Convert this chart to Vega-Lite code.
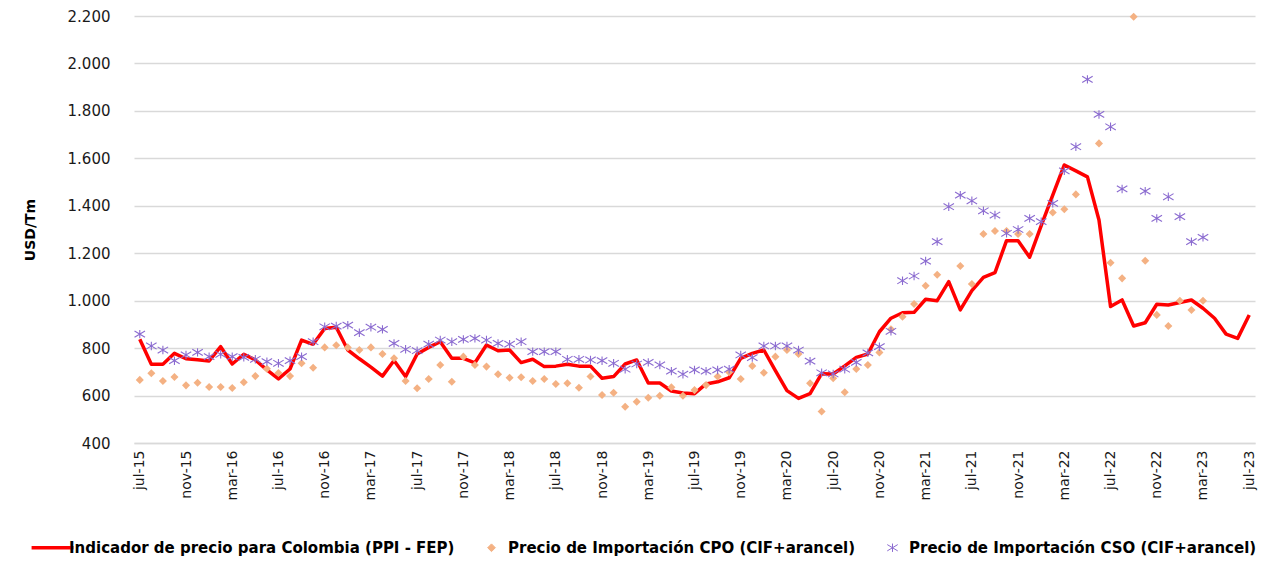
{
  "$schema": "https://vega.github.io/schema/vega-lite/v6.json",
  "width": 1121,
  "height": 427,
  "autosize": "none",
  "padding": {"left": 134, "top": 16, "right": 26, "bottom": 118},
  "background": "white",
  "config": {"view": {"stroke": null}},
  "data": {"values": [
    {"mes":"jul-15","ppi":837,"cpo":666,"cso":859},
    {"mes":"ago-15","ppi":732,"cpo":694,"cso":809},
    {"mes":"sep-15","ppi":732,"cpo":661,"cso":792},
    {"mes":"oct-15","ppi":778,"cpo":678,"cso":747},
    {"mes":"nov-15","ppi":755,"cpo":643,"cso":771},
    {"mes":"dic-15","ppi":751,"cpo":654,"cso":782},
    {"mes":"ene-16","ppi":746,"cpo":636,"cso":764},
    {"mes":"feb-16","ppi":806,"cpo":636,"cso":774},
    {"mes":"mar-16","ppi":733,"cpo":632,"cso":764},
    {"mes":"abr-16","ppi":774,"cpo":656,"cso":761},
    {"mes":"may-16","ppi":750,"cpo":682,"cso":753},
    {"mes":"jun-16","ppi":708,"cpo":713,"cso":743},
    {"mes":"jul-16","ppi":670,"cpo":695,"cso":736},
    {"mes":"ago-16","ppi":712,"cpo":682,"cso":747},
    {"mes":"sep-16","ppi":834,"cpo":736,"cso":764},
    {"mes":"oct-16","ppi":816,"cpo":717,"cso":827},
    {"mes":"nov-16","ppi":883,"cpo":803,"cso":890},
    {"mes":"dic-16","ppi":888,"cpo":812,"cso":893},
    {"mes":"ene-17","ppi":792,"cpo":803,"cso":897},
    {"mes":"feb-17","ppi":755,"cpo":792,"cso":865},
    {"mes":"mar-17","ppi":720,"cpo":803,"cso":888},
    {"mes":"abr-17","ppi":682,"cpo":775,"cso":879},
    {"mes":"may-17","ppi":748,"cpo":757,"cso":820},
    {"mes":"jun-17","ppi":680,"cpo":661,"cso":795},
    {"mes":"jul-17","ppi":775,"cpo":631,"cso":789},
    {"mes":"ago-17","ppi":803,"cpo":670,"cso":817},
    {"mes":"sep-17","ppi":827,"cpo":729,"cso":834},
    {"mes":"oct-17","ppi":757,"cpo":658,"cso":827},
    {"mes":"nov-17","ppi":757,"cpo":764,"cso":837},
    {"mes":"dic-17","ppi":738,"cpo":729,"cso":841},
    {"mes":"ene-18","ppi":813,"cpo":722,"cso":834},
    {"mes":"feb-18","ppi":789,"cpo":690,"cso":820},
    {"mes":"mar-18","ppi":792,"cpo":675,"cso":817},
    {"mes":"abr-18","ppi":739,"cpo":677,"cso":827},
    {"mes":"may-18","ppi":753,"cpo":661,"cso":785},
    {"mes":"jun-18","ppi":722,"cpo":670,"cso":785},
    {"mes":"jul-18","ppi":724,"cpo":649,"cso":785},
    {"mes":"ago-18","ppi":732,"cpo":652,"cso":753},
    {"mes":"sep-18","ppi":724,"cpo":633,"cso":753},
    {"mes":"oct-18","ppi":724,"cpo":680,"cso":750},
    {"mes":"nov-18","ppi":673,"cpo":602,"cso":747},
    {"mes":"dic-18","ppi":680,"cpo":612,"cso":736},
    {"mes":"ene-19","ppi":733,"cpo":553,"cso":711},
    {"mes":"feb-19","ppi":750,"cpo":574,"cso":733},
    {"mes":"mar-19","ppi":653,"cpo":591,"cso":740},
    {"mes":"abr-19","ppi":653,"cpo":599,"cso":729},
    {"mes":"may-19","ppi":619,"cpo":635,"cso":703},
    {"mes":"jun-19","ppi":611,"cpo":599,"cso":690},
    {"mes":"jul-19","ppi":608,"cpo":623,"cso":708},
    {"mes":"ago-19","ppi":649,"cpo":644,"cso":703},
    {"mes":"sep-19","ppi":658,"cpo":680,"cso":708},
    {"mes":"oct-19","ppi":675,"cpo":698,"cso":711},
    {"mes":"nov-19","ppi":757,"cpo":670,"cso":771},
    {"mes":"dic-19","ppi":778,"cpo":725,"cso":760},
    {"mes":"ene-20","ppi":792,"cpo":696,"cso":809},
    {"mes":"feb-20","ppi":705,"cpo":764,"cso":809},
    {"mes":"mar-20","ppi":621,"cpo":792,"cso":809},
    {"mes":"abr-20","ppi":588,"cpo":775,"cso":792},
    {"mes":"may-20","ppi":608,"cpo":652,"cso":745},
    {"mes":"jun-20","ppi":692,"cpo":533,"cso":696},
    {"mes":"jul-20","ppi":691,"cpo":673,"cso":691},
    {"mes":"ago-20","ppi":725,"cpo":614,"cso":711},
    {"mes":"sep-20","ppi":761,"cpo":712,"cso":740},
    {"mes":"oct-20","ppi":775,"cpo":729,"cso":780},
    {"mes":"nov-20","ppi":869,"cpo":782,"cso":806},
    {"mes":"dic-20","ppi":926,"cpo":879,"cso":871},
    {"mes":"ene-21","ppi":949,"cpo":932,"cso":1084},
    {"mes":"feb-21","ppi":951,"cpo":986,"cso":1104},
    {"mes":"mar-21","ppi":1006,"cpo":1063,"cso":1167},
    {"mes":"abr-21","ppi":1000,"cpo":1109,"cso":1249},
    {"mes":"may-21","ppi":1080,"cpo":null,"cso":1396},
    {"mes":"jun-21","ppi":961,"cpo":1146,"cso":1445},
    {"mes":"jul-21","ppi":1042,"cpo":1070,"cso":1421},
    {"mes":"ago-21","ppi":1098,"cpo":1281,"cso":1379},
    {"mes":"sep-21","ppi":1118,"cpo":1294,"cso":1361},
    {"mes":"oct-21","ppi":1253,"cpo":1294,"cso":1284},
    {"mes":"nov-21","ppi":1253,"cpo":1281,"cso":1300},
    {"mes":"dic-21","ppi":1183,"cpo":1281,"cso":1347},
    {"mes":"ene-22","ppi":1316,"cpo":null,"cso":1333},
    {"mes":"feb-22","ppi":1445,"cpo":1372,"cso":1410},
    {"mes":"mar-22","ppi":1572,"cpo":1385,"cso":1547},
    {"mes":"abr-22","ppi":1547,"cpo":1448,"cso":1649},
    {"mes":"may-22","ppi":1522,"cpo":null,"cso":1933},
    {"mes":"jun-22","ppi":1340,"cpo":1663,"cso":1785},
    {"mes":"jul-22","ppi":975,"cpo":1160,"cso":1733},
    {"mes":"ago-22","ppi":1003,"cpo":1094,"cso":1471},
    {"mes":"sep-22","ppi":893,"cpo":2197,"cso":null},
    {"mes":"oct-22","ppi":907,"cpo":1168,"cso":1462},
    {"mes":"nov-22","ppi":985,"cpo":940,"cso":1347},
    {"mes":"dic-22","ppi":982,"cpo":893,"cso":1438},
    {"mes":"ene-23","ppi":992,"cpo":1000,"cso":1354},
    {"mes":"feb-23","ppi":1003,"cpo":961,"cso":1249},
    {"mes":"mar-23","ppi":968,"cpo":1000,"cso":1267},
    {"mes":"abr-23","ppi":926,"cpo":null,"cso":null},
    {"mes":"may-23","ppi":859,"cpo":null,"cso":null},
    {"mes":"jun-23","ppi":841,"cpo":null,"cso":null},
    {"mes":"jul-23","ppi":940,"cpo":null,"cso":null}
  ]},
  "transform": [{"fold": ["ppi", "cpo", "cso"], "as": ["serie", "valor"]}],
  "encoding": {
    "x": {
      "field": "mes", "type": "ordinal", "sort": null,
      "scale": {"type": "point", "padding": 0.5},
      "axis": {
        "title": null,
        "values": ["jul-15","nov-15","mar-16","jul-16","nov-16","mar-17","jul-17","nov-17","mar-18","jul-18","nov-18","mar-19","jul-19","nov-19","mar-20","jul-20","nov-20","mar-21","jul-21","nov-21","mar-22","jul-22","nov-22","mar-23","jul-23"],
        "labelAngle": 270, "labelFont": "DejaVu Sans", "labelFontSize": 14, "labelColor": "#1a1a1a",
        "ticks": false, "labelPadding": 7, "grid": false,
        "domainColor": "#D9D9D9", "domainWidth": 1.5
      }
    },
    "y": {
      "field": "valor", "type": "quantitative",
      "scale": {"domain": [400, 2200], "nice": false, "zero": false},
      "axis": {
        "title": "USD/Tm", "titleFont": "DejaVu Sans", "titleFontWeight": "bold", "titleFontSize": 14, "titleColor": "#000000", "titlePadding": 30,
        "values": [400, 600, 800, 1000, 1200, 1400, 1600, 1800, 2000, 2200],
        "labelExpr": "replace(format(datum.value, ','), ',', '.')",
        "labelFont": "DejaVu Sans", "labelFontSize": 15, "labelColor": "#1a1a1a",
        "grid": true, "gridColor": "#D9D9D9", "gridWidth": 1.5,
        "domain": false, "ticks": false, "labelPadding": 24
      }
    },
    "color": {
      "field": "serie", "type": "nominal",
      "scale": {"domain": ["ppi", "cpo", "cso"], "range": ["#FF0000", "#F4B183", "#8B6BD0"]},
      "legend": {
        "title": null, "orient": "none", "direction": "horizontal",
        "legendX": -89, "legendY": 524,
        "labelExpr": "datum.value == 'ppi' ? 'Indicador de precio para Colombia (PPI - FEP)' : datum.value == 'cpo' ? 'Precio de Importación CPO (CIF+arancel)' : 'Precio de Importación CSO (CIF+arancel)'",
        "labelFont": "DejaVu Sans", "labelFontWeight": "bold", "labelFontSize": 15, "labelColor": "#000000", "labelLimit": 0,
        "symbolSize": 900, "columnPadding": 29, "labelOffset": 9,
        "encode": {"symbols": {"update": {
          "shape": {"signal": "datum.value == 'ppi' ? 'stroke' : datum.value == 'cpo' ? 'diamond' : 'M0,-0.8L0,0.8M-1,-0.6L1,0.6M-1,0.6L1,-0.6'"},
          "size": {"signal": "datum.value == 'ppi' ? 1750 : datum.value == 'cpo' ? 60 : 110"},
          "fill": {"signal": "datum.value == 'cpo' ? '#F4B183' : 'transparent'"},
          "stroke": {"signal": "datum.value == 'ppi' ? '#FF0000' : datum.value == 'cso' ? '#8B6BD0' : 'transparent'"},
          "strokeWidth": {"signal": "datum.value == 'ppi' ? 3.5 : 1"},
          "opacity": {"value": 1}
        }}}
      }
    }
  },
  "layer": [
    {
      "transform": [{"filter": "datum.serie == 'ppi'"}],
      "mark": {"type": "line", "strokeWidth": 3.5, "strokeJoin": "round"}
    },
    {
      "transform": [{"filter": "datum.serie == 'cpo' && datum.valor != null"}],
      "mark": {"type": "point", "shape": "diamond", "filled": true, "size": 65, "opacity": 1}
    },
    {
      "transform": [{"filter": "datum.serie == 'cso' && datum.valor != null"}],
      "mark": {"type": "point", "shape": "M0,-0.8L0,0.8M-1,-0.6L1,0.6M-1,0.6L1,-0.6", "filled": false, "size": 110, "strokeWidth": 1.1, "opacity": 1}
    }
  ]
}
